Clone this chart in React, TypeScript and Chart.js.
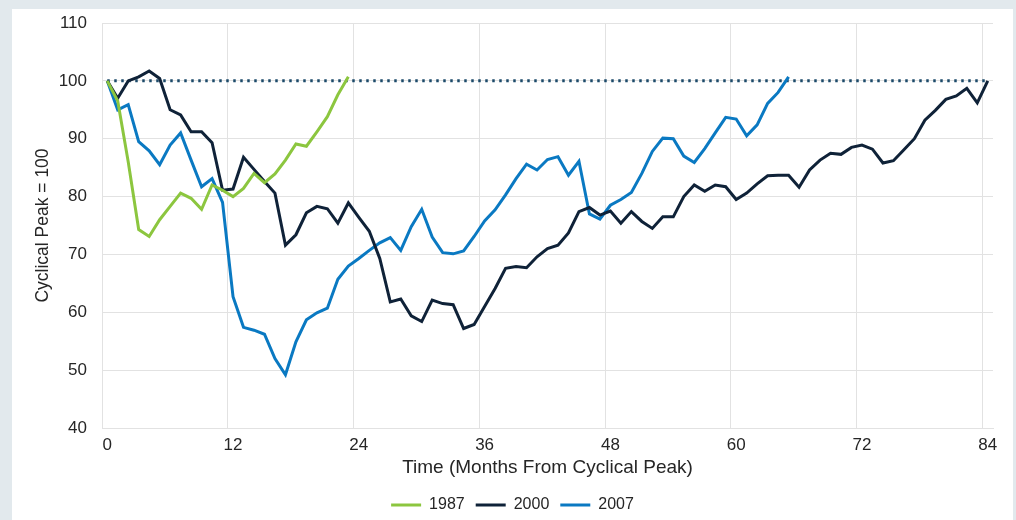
import React, { useEffect, useRef } from 'react';
import { Chart, registerables } from 'chart.js';

Chart.register(...registerables);

const MONTHS = [
  '0', '1', '2', '3', '4', '5', '6', '7', '8', '9', '10', '11', '12', '13', '14', '15', '16', '17', '18', '19', '20',
  '21', '22', '23', '24', '25', '26', '27', '28', '29', '30', '31', '32', '33', '34', '35', '36', '37', '38', '39', '40',
  '41', '42', '43', '44', '45', '46', '47', '48', '49', '50', '51', '52', '53', '54', '55', '56', '57', '58', '59', '60',
  '61', '62', '63', '64', '65', '66', '67', '68', '69', '70', '71', '72', '73', '74', '75', '76', '77', '78', '79', '80',
  '81', '82', '83', '84',
];

const TICK_LABELS = ['0', '12', '24', '36', '48', '60', '72', '84'];

const Y_MIN = 40;
const Y_MAX = 110;
const Y_STEP = 10;

const SERIES_1987 = [
  100, 96.5, 86, 74.3, 73.1, 76.0, 78.3, 80.6, 79.7, 77.8, 82.0, 81.1, 80.0, 81.4, 84.0, 82.4, 83.9, 86.3, 89.1, 88.7,
  91.2, 93.8, 97.6, 100.7,
];

const SERIES_2000 = [
  100, 97.0, 100.0, 100.7, 101.7, 100.4, 95.0, 94.1, 91.2, 91.2, 89.3, 81.1, 81.3, 86.8, 84.7, 82.6, 80.6, 71.6, 73.4,
  77.2, 78.3, 77.9, 75.4, 78.9, 76.4, 74.0, 69.3, 61.8, 62.3, 59.4, 58.4, 62.1, 61.5, 61.3, 57.2, 57.9, 61.0, 64.1,
  67.6, 67.9, 67.7, 69.6, 71.0, 71.6, 73.7, 77.4, 78.1, 76.8, 77.5, 75.4, 77.4, 75.7, 74.5, 76.5, 76.5, 80.0, 82.0,
  80.9, 82.0, 81.7, 79.5, 80.6, 82.2, 83.6, 83.7, 83.7, 81.6, 84.6, 86.3, 87.5, 87.3, 88.5, 88.9, 88.2, 85.8, 86.2,
  88.1, 90.0, 93.2, 94.9, 96.8, 97.4, 98.7, 96.2, 100.0,
];

const SERIES_2007 = [
  100, 95.0, 95.9, 89.5, 87.9, 85.5, 88.9, 91.0, 86.3, 81.7, 83.1, 79.0, 62.7, 57.4, 56.9, 56.2, 52.0, 49.2, 54.9,
  58.7, 59.9, 60.7, 65.7, 68.0, 69.3, 70.7, 72.0, 72.9, 70.7, 74.8, 77.8, 73.0, 70.3, 70.1, 70.6, 73.1, 75.8, 77.7,
  80.3, 83.1, 85.6, 84.6, 86.4, 86.9, 83.7, 86.1, 77.0, 76.1, 78.5, 79.5, 80.7, 84.0, 87.8, 90.1, 90.0, 87.0, 85.9,
  88.3, 91.0, 93.7, 93.4, 90.5, 92.4, 96.1, 98.0, 100.7,
];

const PEAK_LINE = [
  { x: '0', y: 100 },
  { x: '84', y: 100 },
];

const SERIES_NAMES = ['1987', '2000', '2007'];

const FONT = "'Liberation Sans', Arial, Helvetica, sans-serif";
const TEXT = '#262626';
const GRID = '#e2e2e2';

export default function App() {
  const canvasRef = useRef<HTMLCanvasElement | null>(null);

  useEffect(() => {
    if (!canvasRef.current) return;
    Chart.defaults.font.family = FONT;
    const chart = new Chart(canvasRef.current, {
      type: 'line',
      data: {
        labels: MONTHS,
        datasets: [
          {
            label: SERIES_NAMES[0],
            data: SERIES_1987,
            borderColor: '#8cc63f',
            backgroundColor: '#8cc63f',
            borderWidth: 3,
          },
          {
            label: SERIES_NAMES[1],
            data: SERIES_2000,
            borderColor: '#0f2238',
            backgroundColor: '#0f2238',
            borderWidth: 3,
          },
          {
            label: SERIES_NAMES[2],
            data: SERIES_2007,
            borderColor: '#0a79c2',
            backgroundColor: '#0a79c2',
            borderWidth: 3,
          },
          {
            label: 'Peak',
            data: PEAK_LINE as any,
            borderColor: '#1c4a6a',
            backgroundColor: '#1c4a6a',
            borderWidth: 3,
            borderDash: [2.5, 4.5],
          },
        ],
      },
      options: {
        responsive: false,
        animation: false,
        layout: { padding: { top: 14, right: 0, bottom: 0, left: 0 } },
        elements: {
          point: { radius: 0, hoverRadius: 0 },
          line: { tension: 0, fill: false },
        },
        plugins: {
          tooltip: { enabled: false },
          legend: {
            position: 'bottom',
            labels: {
              usePointStyle: true,
              pointStyle: 'line',
              pointStyleWidth: 30,
              padding: 11,
              color: TEXT,
              font: { size: 16, family: FONT },
              filter: (item: any) => item.datasetIndex < 3,
            },
          },
        },
        scales: {
          x: {
            type: 'category',
            offset: true,
            grid: {
              offset: true,
              drawTicks: false,
              lineWidth: 1,
              color: (ctx: any) =>
                ctx.tick && TICK_LABELS.includes(MONTHS[ctx.index]) ? GRID : 'rgba(0,0,0,0)',
            },
            border: { color: GRID, width: 1 },
            ticks: {
              autoSkip: false,
              maxRotation: 0,
              minRotation: 0,
              padding: 7,
              color: TEXT,
              font: { size: 17, family: FONT },
              callback: (_v: any, index: number) =>
                TICK_LABELS.includes(MONTHS[index]) ? MONTHS[index] : '',
            },
            title: {
              display: true,
              text: 'Time (Months From Cyclical Peak)',
              color: TEXT,
              font: { size: 19, family: FONT },
              padding: { top: 0, bottom: 7 },
            },
            afterFit: (s: any) => {
              s.height = 58;
            },
          },
          y: {
            min: Y_MIN,
            max: Y_MAX,
            ticks: {
              stepSize: Y_STEP,
              padding: 15,
              color: TEXT,
              font: { size: 17, family: FONT },
            },
            grid: { drawTicks: false, color: GRID, lineWidth: 1 },
            border: { color: GRID, width: 1 },
            title: {
              display: true,
              text: 'Cyclical Peak = 100',
              color: TEXT,
              font: { size: 17.5, family: FONT },
              padding: { top: 21, bottom: 0 },
            },
            afterFit: (s: any) => {
              s.width = 90;
              s.paddingTop = 0;
              s.paddingBottom = 0;
            },
          },
          yRight: {
            position: 'right',
            display: true,
            grid: { display: false, drawTicks: false },
            border: { display: false },
            ticks: { display: false },
            afterFit: (s: any) => {
              s.width = 20;
              s.paddingTop = 0;
              s.paddingBottom = 0;
            },
          },
        },
      } as any,
    });
    return () => chart.destroy();
  }, []);

  return (
    <div
      style={{
        position: 'fixed',
        left: 0,
        top: 0,
        width: 1016,
        height: 520,
        background: '#e2e9ed',
        overflow: 'hidden',
      }}
    >
      <div
        style={{
          position: 'absolute',
          left: 12,
          top: 9,
          width: 1001,
          height: 514,
          background: '#ffffff',
        }}
      >
        <canvas ref={canvasRef} width={1001} height={514} style={{ display: 'block', width: 1001, height: 514 }} />
      </div>
    </div>
  );
}
